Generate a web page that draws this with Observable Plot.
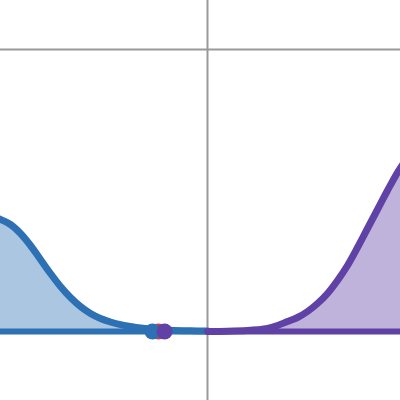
<!DOCTYPE html>
<html>
<head>
<meta charset="utf-8">
<script src="https://cdn.jsdelivr.net/npm/d3@7"></script>
<script src="https://cdn.jsdelivr.net/npm/@observablehq/plot@0.6"></script>
<style>
  html, body { margin: 0; padding: 0; background: #fff; }
  svg { display: block; }
</style>
</head>
<body>
<div id="chart"></div>
<script>
// Blue curve (left)
const blueX = [-2.17, -2.07, -1.97, -1.87, -1.77, -1.67, -1.57, -1.47, -1.37, -1.27, -1.17, -1.07, -0.97, -0.87, -0.77, -0.67, -0.57, -0.37, -0.17, 0];
const blueY = [-1.67, -1.70, -1.75, -1.84, -1.96, -2.10, -2.24, -2.37, -2.48, -2.57, -2.64, -2.69, -2.725, -2.752, -2.77, -2.785, -2.795, -2.807, -2.813, -2.816];
// Purple curve (right)
const purpleX = [0, 0.2, 0.4, 0.5, 0.6, 0.7, 0.8, 0.9, 1.0, 1.1, 1.2, 1.3, 1.4, 1.5, 1.6, 1.7, 1.8, 1.9, 2.0];
const purpleY = [-2.82, -2.817, -2.81, -2.803, -2.79, -2.76, -2.72, -2.68, -2.62, -2.54, -2.44, -2.31, -2.16, -1.98, -1.79, -1.60, -1.41, -1.23, -1.08];
const baseline = -2.82;
// Points on the baseline
const pointX = [-0.49, -0.55, -0.43];
const pointNames = ["red", "blue", "purple"];

const blue = blueX.map((x, i) => ({x, y: blueY[i]}));
const purple = purpleX.map((x, i) => ({x, y: purpleY[i]}));
const pts = pointX.map((x, i) => ({x, y: baseline, name: pointNames[i]}));
const colors = {red: "#c74440", blue: "#2d70b3", purple: "#6042a6"};

const chart = Plot.plot({
  width: 400,
  height: 400,
  margin: 0,
  x: {domain: [-2.07, 1.93], axis: null},
  y: {domain: [-3.51, 0.49], axis: null},
  marks: [
    Plot.ruleX([0], {stroke: "#999", strokeWidth: 2}),
    Plot.ruleY([0], {stroke: "#999", strokeWidth: 2}),
    Plot.areaY(blue, {x: "x", y1: baseline, y2: "y", fill: "#2d70b3", fillOpacity: 0.4, curve: "catmull-rom", clip: true}),
    Plot.areaY(purple, {x: "x", y1: baseline, y2: "y", fill: "#6042a6", fillOpacity: 0.4, curve: "catmull-rom", clip: true}),
    Plot.ruleY([baseline], {x1: -2.07, x2: 0, stroke: "#2d70b3", strokeWidth: 6}),
    Plot.ruleY([baseline], {x1: 0, x2: 1.93, stroke: "#6042a6", strokeWidth: 6}),
    Plot.line(blue, {x: "x", y: "y", stroke: "#2d70b3", strokeWidth: 7, curve: "catmull-rom", clip: true}),
    Plot.line(purple, {x: "x", y: "y", stroke: "#6042a6", strokeWidth: 7, curve: "catmull-rom", clip: true}),
    Plot.dot(pts, {x: "x", y: "y", r: 8, fill: d => colors[d.name], stroke: null})
  ]
});
document.getElementById("chart").appendChild(chart);
</script>
</body>
</html>
